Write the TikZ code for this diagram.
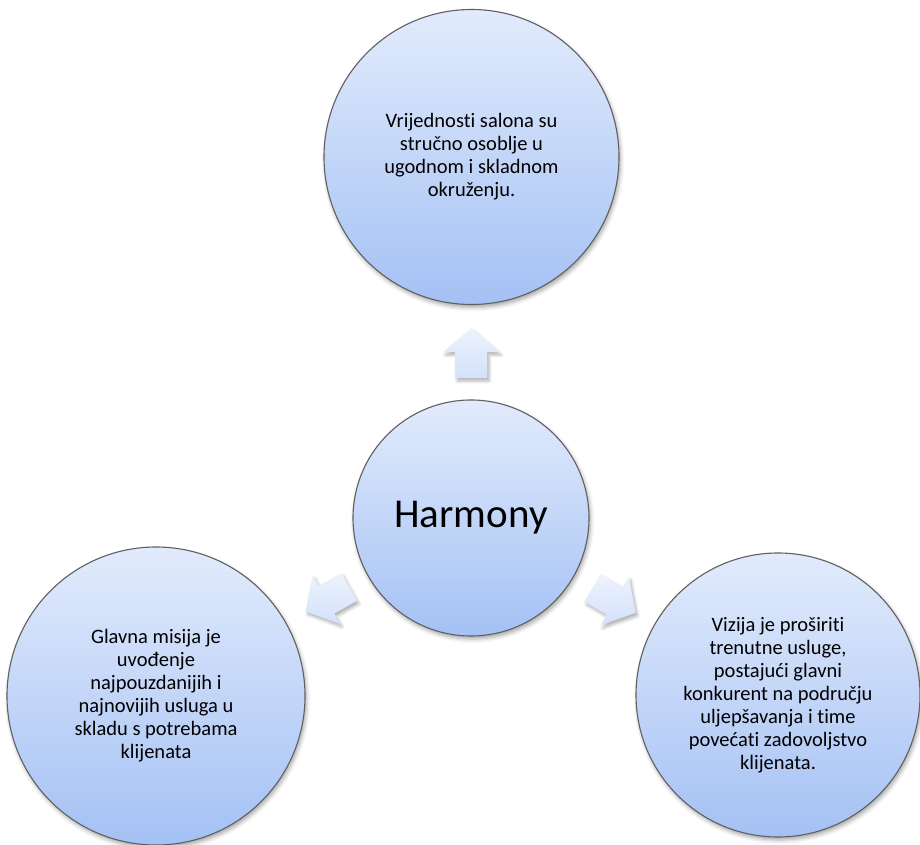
\documentclass[tikz,border=0pt]{standalone}
\usepackage{fontspec}
\setmainfont[Ligatures={NoCommon}]{Carlito}
\usetikzlibrary{calc,shadows.blur}
\definecolor{ctop}{HTML}{E2EBFC}
\definecolor{cbot}{HTML}{A4C1F4}
\definecolor{atop}{HTML}{EEF3FD}
\definecolor{abot}{HTML}{D3E1FA}
\definecolor{cline}{HTML}{606060}
\tikzset{
  bubble/.style={circle, draw=cline, line width=1.1pt, top color=ctop, bottom color=cbot,
    blur shadow={shadow xshift=1.5pt, shadow yshift=-3pt, shadow blur radius=4pt, shadow opacity=35},
    align=center, inner sep=0pt, font=\fontsize{20.5}{23}\selectfont,
    execute at begin node={\rule{0pt}{21pt}}},
  blockarrow/.style={top color=atop, bottom color=abot, draw=none,
    blur shadow={shadow xshift=2pt, shadow yshift=-3pt, shadow blur radius=3pt, shadow opacity=30}},
}
\newcommand{\blockarr}[2]{%
  \begin{scope}[shift={(#1)}, rotate=#2]
    \path[blockarrow] (-25,-16) -- (1,-16) -- (1,-28) -- (25,0) -- (1,28) -- (1,16) -- (-25,16) -- cycle;
  \end{scope}}
\begin{document}
\begin{tikzpicture}[x=1pt,y=-1pt]
\useasboundingbox (0,0) rectangle (920,845);
\node[bubble, minimum size=295pt] (top) at (471.5,157) {Vrijednosti salona su\\stručno osoblje u\\ugodnom i skladnom\\okruženju.};
\node[bubble, minimum size=236pt, font=\fontsize{41}{48}\selectfont] (mid) at (471,518) {Harmony};
\node[bubble, minimum size=298pt] (bl) at (156,696) {Glavna misija je\\uvođenje\\najpouzdanijih i\\najnovijih usluga u\\skladu s potrebama\\klijenata};
\node[bubble, minimum size=284pt] (br) at (778,695) {Vizija je proširiti\\trenutne usluge,\\postajući glavni\\konkurent na području\\uljepšavanja i time\\povećati zadovoljstvo\\klijenata.};
\coordinate (aup) at ($(mid.center)!165pt!(top.center)$);
\coordinate (abl) at ($(mid.center)!165pt!(bl.center)$);
\coordinate (abr) at ($(mid.center)!165pt!(br.center)$);
\blockarr{aup}{90}
\blockarr{abl}{209.5}
\blockarr{abr}{-30}
\end{tikzpicture}
\end{document}
